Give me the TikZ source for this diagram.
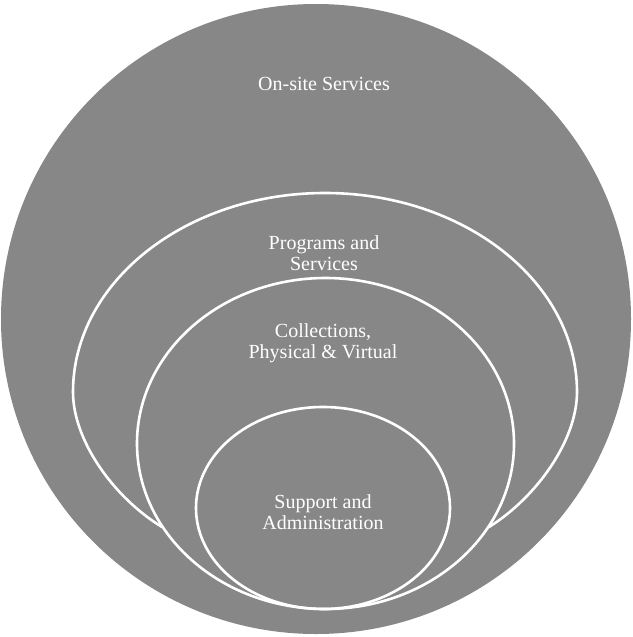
\documentclass[tikz,border=0pt]{standalone}
\usepackage{fontspec}
\setmainfont{Liberation Serif}
\usetikzlibrary{shapes.geometric}
\begin{document}
\begin{tikzpicture}[x=1pt,y=-1pt,
  ring/.style={draw=white,line width=2.6pt},
  lbl/.style={text=white,align=center,font=\fontsize{20}{21}\selectfont}]
\useasboundingbox (0,0) rectangle (632,637);
\fill[white] (0,0) rectangle (632,637);
\node[circle,fill=black!47,minimum size=630pt,inner sep=0pt] (outer) at (316,319) {};
% Collections and Support ellipses
\node[ellipse,ring,minimum width=377pt,minimum height=331pt,inner sep=0pt] (coll) at (325.5,443.5) {};
\node[ellipse,ring,minimum width=254pt,minimum height=202pt,inner sep=0pt] (supp) at (323,508) {};
% Programs outline: upper arc that merges into the Collections ellipse
\coordinate (pl) at (73,392);
\coordinate (pr) at (577,392);
\coordinate (jl) at (162,527);
\coordinate (jr) at (489,527);
\draw[ring,line cap=round] (jl) .. controls (113,497) and (73,440) .. (pl)
  arc[start angle=180,end angle=0,x radius=252pt,y radius=199pt]
  .. controls (577,440) and (537,497) .. (jr);
\node[lbl] (t1) at (324,84) {On-site Services};
\node[lbl] (t2) at (324,253) {Programs and\\Services};
\node[lbl] (t3) at (323,343) {Collections,\\Physical \& Virtual};
\node[lbl] (t4) at (323,512) {Support and\\Administration};
\end{tikzpicture}
\end{document}
